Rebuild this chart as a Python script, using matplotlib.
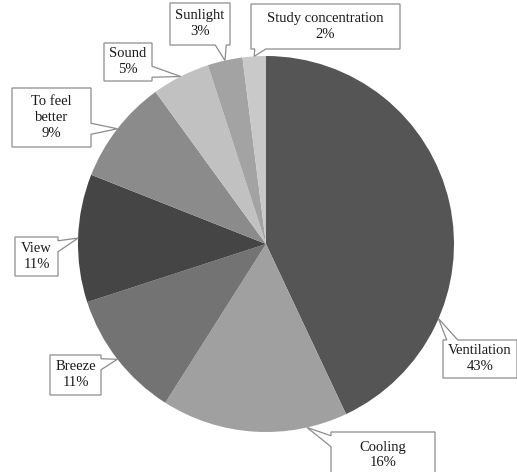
import matplotlib
matplotlib.use("Agg")
import matplotlib.pyplot as plt
import numpy as np
from matplotlib.patches import Polygon

# ---- data ----
categories = ["Ventilation", "Cooling", "Breeze", "View", "To feel better",
              "Sound", "Sunlight", "Study concentration"]
values = [43, 16, 11, 11, 9, 5, 3, 2]
label_lines = ["Ventilation", "Cooling", "Breeze", "View", "To feel\nbetter",
               "Sound", "Sunlight", "Study concentration"]

# ---- style ----
colors = ["#555555", "#a0a0a0", "#737373", "#454545", "#8b8b8b",
          "#c1c1c1", "#a3a3a3", "#c9c9c9"]

W, H = 517, 472
CX, CY, R = 266, 244, 188  # pie center and radius in pixels

# callout layout in pixels: box center x, center y, width, height, anchor angle (None = mid)
layout = [
    (480, 359, 74, 38, 336.6),
    (383, 455, 104, 46, 282.6),
    (75.5, 375, 51, 40, None),
    (36.5, 256.5, 43, 39, None),
    (51.5, 117.5, 79, 59, None),
    (128, 62, 48, 38, None),
    (200, 24, 60, 42, None),
    (325.5, 26.5, 149, 45, None),
]

fig = plt.figure(figsize=(W / 100, H / 100), dpi=100)
ax = fig.add_axes([0, 0, 1, 1])
wedges, _ = ax.pie(values, colors=colors, startangle=90, counterclock=False,
                   radius=1, center=(0, 0), wedgeprops=dict(linewidth=0))
ax.set_aspect("equal")
ax.set_xlim(-CX / R, (W - CX) / R)
ax.set_ylim(-(H - CY) / R, CY / R)
ax.axis("off")


def px(x, y):
    return (x - CX) / R, (CY - y) / R


def callout(x0, y0, x1, y1, axx, axy, w):
    cx, cy = (x0 + x1) / 2, (y0 + y1) / 2
    hw, hh = (x1 - x0) / 2, (y1 - y0) / 2
    dx, dy = axx - cx, axy - cy
    m = w / 2 + 0.02
    if abs(dx) / hw > abs(dy) / hh:
        b = float(np.clip(axy, y0 + m, y1 - m))
        if dx > 0:
            pts = [(x0, y0), (x1, y0), (x1, b - w / 2), (axx, axy),
                   (x1, b + w / 2), (x1, y1), (x0, y1)]
        else:
            pts = [(x0, y0), (x1, y0), (x1, y1), (x0, y1),
                   (x0, b + w / 2), (axx, axy), (x0, b - w / 2)]
    else:
        b = float(np.clip(axx, x0 + m, x1 - m))
        if dy > 0:
            pts = [(x0, y0), (x1, y0), (x1, y1), (b + w / 2, y1),
                   (axx, axy), (b - w / 2, y1), (x0, y1)]
        else:
            pts = [(x0, y0), (b - w / 2, y0), (axx, axy), (b + w / 2, y0),
                   (x1, y0), (x1, y1), (x0, y1)]
    return pts


for wdg, lab, val, lay in zip(wedges, label_lines, values, layout):
    bx, by, bw, bh, ang = lay
    if ang is None:
        ang = (wdg.theta1 + wdg.theta2) / 2
    a = np.deg2rad(ang)
    axx, axy = np.cos(a), np.sin(a)
    cx, cy = px(bx, by)
    hw, hh = bw / 2 / R, bh / 2 / R
    pts = callout(cx - hw, cy - hh, cx + hw, cy + hh, axx, axy, 11 / R)
    ax.add_patch(Polygon(pts, closed=True, facecolor="white",
                         edgecolor="#8c8c8c", linewidth=0.9, zorder=3,
                         joinstyle="miter"))
    ax.text(cx, cy, f"{lab}\n{val}%", ha="center", va="center",
            multialignment="center", fontsize=10.5, family="Liberation Serif",
            color="#1a1a1a", linespacing=1.3, zorder=4)

fig.savefig("out.png", dpi=100)
